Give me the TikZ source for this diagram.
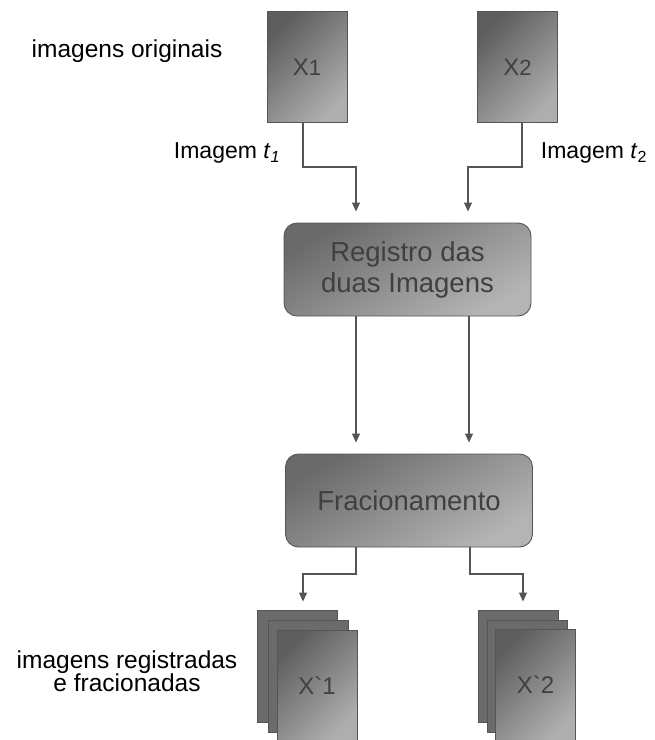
\documentclass[tikz,border=0pt]{standalone}
\usepackage{fontspec}
\setmainfont{Liberation Sans}
\usetikzlibrary{arrows.meta,positioning}
\definecolor{edgegray}{HTML}{555555}
\definecolor{boxdark}{HTML}{5E5E5E}
\definecolor{boxlight}{HTML}{AEAEAE}
\definecolor{procdark}{HTML}{6A6A6A}
\definecolor{proclight}{HTML}{B4B4B4}
\definecolor{backgray}{HTML}{6B6B6B}
\definecolor{boxtext}{HTML}{404040}
\definecolor{pageedge}{HTML}{555555}
\tikzset{
  page/.style={draw=pageedge, line width=0.9pt, minimum width=80pt, minimum height=111pt,
    inner sep=0pt, top color=boxdark, bottom color=boxlight, shading angle=45,
    text=boxtext, font=\fontsize{24}{26}\selectfont},
  backpage/.style={draw=pageedge, line width=0.9pt, minimum width=80pt, minimum height=112pt,
    inner sep=0pt, fill=backgray},
  procbox/.style={draw=pageedge, line width=0.9pt, rounded corners=13pt, minimum width=247pt,
    minimum height=93pt, inner sep=0pt, top color=procdark, bottom color=proclight,
    shading angle=30, text=boxtext, align=center, font=\fontsize{27.5}{31}\selectfont},
  lbl/.style={text=black, align=center, font=\fontsize{24.5}{23.5}\selectfont, inner sep=0pt},
  conn/.style={draw=edgegray, line width=1.1pt, -{Triangle[width=8pt,length=9pt]}},
}
\begin{document}
\begin{tikzpicture}[x=1pt,y=-1pt]
\useasboundingbox (0,0) rectangle (655,740);
% original images
\node[page] (x1) at (307,67) {X{\fontsize{22}{24}\selectfont 1}};
\node[page] (x2) at (517.5,67) {X{\fontsize{22}{24}\selectfont 2}};
% process boxes
\node[procbox] (reg) at (407.5,269.5) {Registro das\\duas Imagens};
\node[procbox] (frac) at (409,500.5) {Fracionamento};
% stacks
\node[backpage] (s1a) at (297,666) {};
\node[backpage] (s1b) at (308,676) {};
\node[page, minimum height=112pt] (s1) at (317,686) {X\textasciigrave 1};
\node[backpage] (s2a) at (518,666) {};
\node[backpage] (s2b) at (527,676) {};
\node[page, minimum height=112pt] (s2) at (535.5,685) {X\textasciigrave 2};
% labels
\node[lbl] (lorig) at (127,51) {imagens originais};
\node[lbl, font=\fontsize{23}{24}\selectfont] (lt1) at (227,153) {Imagem \textit{t}\textsubscript{\itshape 1}};
\node[lbl, font=\fontsize{23}{24}\selectfont] (lt2) at (594,153) {Imagem \textit{t}\textsubscript{2}};
\node[lbl] (lreg) at (127,671) {imagens registradas\\e fracionadas};
% coordinates for bends
\coordinate (b1) at (303,167);
\coordinate (b2) at (522,167);
\coordinate (b3) at (356,574);
\coordinate (b4) at (470,574);
% connectors
\draw[conn, shorten >=11pt] (x1.south -| b1) -- (b1) -| (reg.north -| 356,0);
\draw[conn, shorten >=11pt] (x2.south -| b2) -- (b2) -| (reg.north -| 468,0);
\draw[conn, shorten >=11pt] (reg.south -| 356,0) -- (frac.north -| 356,0);
\draw[conn, shorten >=11pt] (reg.south -| 469,0) -- (frac.north -| 469,0);
\draw[conn, shorten >=8pt] (frac.south -| b3) -- (b3) -| (s1a.north -| 303,0);
\draw[conn, shorten >=8pt] (frac.south -| b4) -- (b4) -| (s2a.north -| 523,0);
\end{tikzpicture}
\end{document}
